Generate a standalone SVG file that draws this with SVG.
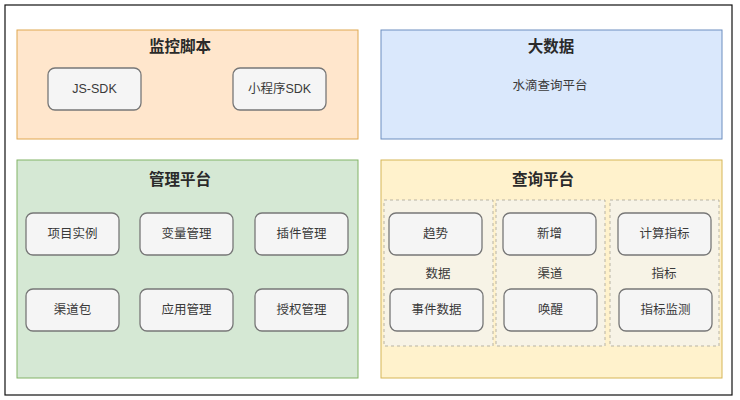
<svg xmlns="http://www.w3.org/2000/svg" width="740" height="400" viewBox="0 0 740 400">
<style>
text{font-family:"Liberation Sans","Noto Sans CJK SC",sans-serif;fill:#222;text-anchor:middle;dominant-baseline:central}
.t{font-size:15.5px;font-weight:600;fill:#2a2a2a}
.s{font-size:12.5px;fill:#3a3a3a}
.n{fill:#f5f5f5;stroke:#777;stroke-width:1.3}
.d{fill:#f7f3e6;stroke:#b8b3a3;stroke-dasharray:3 3}
</style>
<rect x="0" y="0" width="740" height="400" fill="#fff"/>
<rect x="5" y="5" width="727" height="390" fill="#fff" stroke="#111" stroke-width="1.2"/>
<g id="jiankong">
<rect x="17" y="30" width="341" height="109" fill="#ffe6cc" stroke="#e0a850"/>
<text class="t" x="180" y="46">监控脚本</text>
</g>
<g id="jssdk"><rect class="n" x="48" y="68" width="93" height="42" rx="7"/><text class="s" x="94.5" y="89">JS-SDK</text></g>
<g id="mpsdk"><rect class="n" x="233" y="68" width="93" height="42" rx="7"/><text class="s" x="279.5" y="89">小程序SDK</text></g>
<g id="dashuju">
<rect x="381" y="30" width="341" height="109" fill="#dae8fc" stroke="#6c8ebf"/>
<text class="t" x="551" y="46">大数据</text>
<text class="s" x="550" y="86">水滴查询平台</text>
</g>
<g id="guanli">
<rect x="17" y="160" width="341" height="218" fill="#d5e8d4" stroke="#82b366"/>
<text class="t" x="180" y="179">管理平台</text>
</g>
<g id="xiangmu"><rect class="n" x="26" y="213" width="93" height="42" rx="7"/><text class="s" x="72.5" y="234">项目实例</text></g>
<g id="bianliang"><rect class="n" x="140" y="213" width="93" height="42" rx="7"/><text class="s" x="186.5" y="234">变量管理</text></g>
<g id="chajian"><rect class="n" x="255" y="213" width="93" height="42" rx="7"/><text class="s" x="301.5" y="234">插件管理</text></g>
<g id="qudaobao"><rect class="n" x="26" y="289" width="93" height="42" rx="7"/><text class="s" x="72.5" y="310">渠道包</text></g>
<g id="yingyong"><rect class="n" x="140" y="289" width="93" height="42" rx="7"/><text class="s" x="186.5" y="310">应用管理</text></g>
<g id="shouquan"><rect class="n" x="255" y="289" width="93" height="42" rx="7"/><text class="s" x="301.5" y="310">授权管理</text></g>
<g id="chaxun">
<rect x="381" y="160" width="341" height="218" fill="#fff2cc" stroke="#d6b656"/>
<text class="t" x="543" y="179">查询平台</text>
</g>
<g id="shuju"><rect class="d" x="384" y="200" width="109" height="146"/><text class="s" x="438" y="274">数据</text></g>
<g id="qudao"><rect class="d" x="496" y="200" width="109" height="146"/><text class="s" x="550" y="274">渠道</text></g>
<g id="zhibiao"><rect class="d" x="610" y="200" width="109" height="146"/><text class="s" x="664" y="274">指标</text></g>
<g id="qushi"><rect class="n" x="389" y="213" width="93" height="42" rx="7"/><text class="s" x="435.5" y="234">趋势</text></g>
<g id="shijian"><rect class="n" x="390" y="289" width="93" height="42" rx="7"/><text class="s" x="436.5" y="310">事件数据</text></g>
<g id="xinzeng"><rect class="n" x="503" y="213" width="93" height="42" rx="7"/><text class="s" x="549.5" y="234">新增</text></g>
<g id="huanxing"><rect class="n" x="504" y="289" width="93" height="42" rx="7"/><text class="s" x="550.5" y="310">唤醒</text></g>
<g id="jisuan"><rect class="n" x="618" y="213" width="93" height="42" rx="7"/><text class="s" x="664.5" y="234">计算指标</text></g>
<g id="jiance"><rect class="n" x="619" y="289" width="93" height="42" rx="7"/><text class="s" x="665.5" y="310">指标监测</text></g>
<g id="connectors"></g>
</svg>
